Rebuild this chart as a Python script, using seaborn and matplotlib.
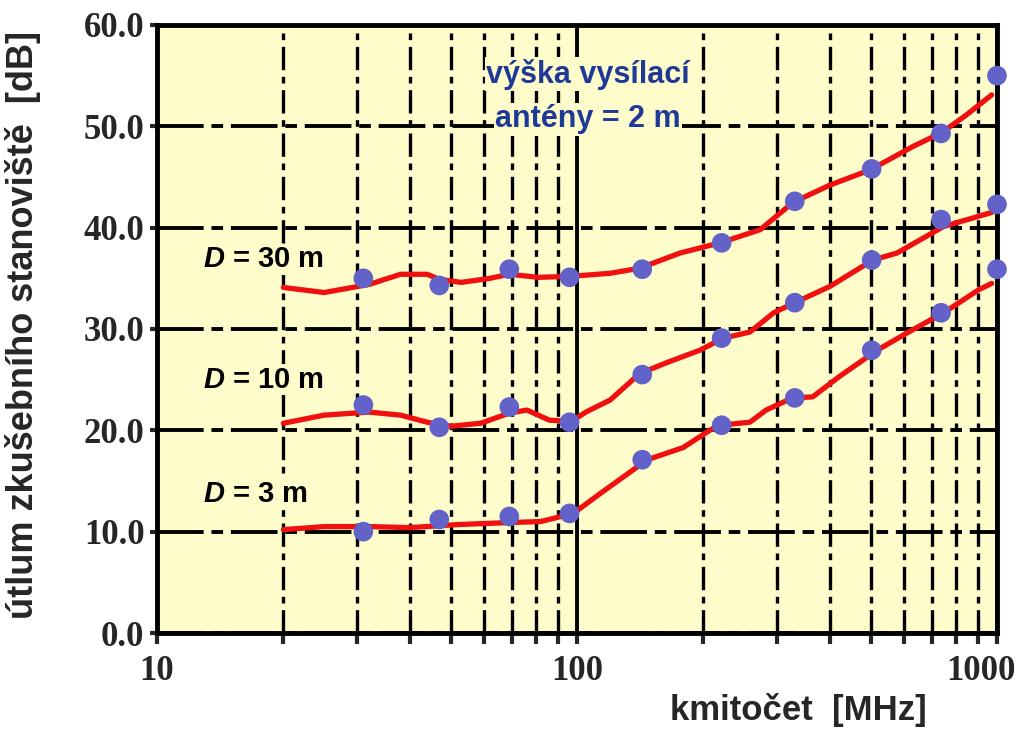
import matplotlib
matplotlib.use("Agg")
import matplotlib.pyplot as plt
import matplotlib.ticker as mticker
import matplotlib.transforms as mtransforms
import seaborn as sns

# ── data (frequency in MHz, attenuation in dB) ──
dot_freq = [31, 47, 69, 96, 143, 221, 330, 503, 736, 1000]
dots_30 = [35.0, 34.3, 35.9, 35.1, 35.9, 38.5, 42.6, 45.8, 49.3, 55.0]
dots_10 = [22.5, 20.3, 22.3, 20.8, 25.5, 29.1, 32.6, 36.8, 40.8, 42.3]
dots_3 = [10.0, 11.2, 11.5, 11.8, 17.1, 20.5, 23.2, 27.9, 31.6, 35.9]

curve_freq_30 = [20, 25, 32, 38, 44, 47, 53, 62, 69, 81, 97, 120, 141, 176,
                 219, 273, 327, 400, 499, 630, 740, 844, 971]
curve_30 = [34.1, 33.6, 34.4, 35.4, 35.4, 34.9, 34.6, 35.0, 35.4, 35.1, 35.2,
            35.5, 36.0, 37.5, 38.5, 39.8, 42.5, 44.2, 45.7, 48.0, 49.4, 51.1, 53.1]

curve_freq_10 = [20, 25, 32, 38, 44, 50, 59, 69, 76, 86, 97, 105, 120, 141,
                 164, 196, 223, 258, 294, 330, 400, 506, 578, 745, 971]
curve_10 = [20.7, 21.5, 21.8, 21.5, 20.8, 20.4, 20.7, 21.7, 22.0, 21.0, 20.9,
            21.8, 23.0, 25.6, 26.7, 27.9, 29.1, 29.7, 31.6, 32.6, 34.2, 36.8,
            37.5, 40.1, 41.5]

curve_freq_3 = [20, 25, 32, 40, 52, 69, 82, 98, 113, 147, 179, 207, 218, 258,
                282, 326, 364, 421, 518, 610, 746, 907, 971]
curve_3 = [10.2, 10.5, 10.5, 10.4, 10.7, 10.9, 11.0, 11.8, 13.7, 17.1, 18.3,
           20.0, 20.5, 20.8, 22.0, 23.2, 23.3, 25.3, 27.9, 29.6, 31.6, 33.9, 34.5]

series_labels = ["$D$ = 30 m", "$D$ = 10 m", "$D$ = 3 m"]
label_pos = [(12.9, 36.1), (12.9, 24.2), (12.9, 12.9)]

x_major = [10, 100, 1000]
x_major_labels = ["10", "100", "1000"]
x_minor = [20, 30, 40, 50, 60, 70, 80, 90, 200, 300, 400, 500, 600, 700, 800, 900]
y_ticks = [0, 10, 20, 30, 40, 50, 60]
y_labels = ["0.0", "10.0", "20.0", "30.0", "40.0", "50.0", "60.0"]

BG = "#fffccc"
RED = "#f01010"
DOT = "#6262c8"
BLUE = "#1f3a96"

sns.set_style("ticks")
plt.rcParams["font.family"] = ["Liberation Sans", "DejaVu Sans"]
plt.rcParams["mathtext.fontset"] = "custom"
plt.rcParams["mathtext.it"] = "Liberation Sans:italic:bold"
plt.rcParams["mathtext.rm"] = "Liberation Sans:bold"

fig = plt.figure(figsize=(10.24, 7.38), dpi=100)
ax = fig.add_axes([157 / 1024, 1 - 633 / 738, 840 / 1024, 608 / 738])
ax.set_facecolor(BG)

# ── curves and measured points ──
curves = [(curve_freq_30, curve_30), (curve_freq_10, curve_10), (curve_freq_3, curve_3)]
for cf, cv in curves:
    sns.lineplot(x=cf, y=cv, color=RED, linewidth=3.8, sort=False,
                 estimator=None, ax=ax, zorder=4)
for dv in (dots_30, dots_10, dots_3):
    sns.scatterplot(x=dot_freq, y=dv, color=DOT, s=200, edgecolor="none",
                    ax=ax, zorder=5, clip_on=False)

ax.set_xscale("log")
ax.set_xlim(10, 1000)
ax.set_ylim(0, 60)

# ── grid in the look of the old scanned paper ──
ax.set_xticks(x_minor, minor=True)
ax.xaxis.set_minor_formatter(mticker.NullFormatter())
ax.grid(which="major", axis="x", color="black", linewidth=2.8, linestyle="-", zorder=1)
ax.grid(which="minor", axis="x", color="black", linewidth=2.4,
        linestyle=(0, (7, 2, 2, 2)), zorder=1)
ax.grid(which="major", axis="y", color="black", linewidth=2.8,
        linestyle=(0, (12, 2, 3, 2)), zorder=1)
ax.set_axisbelow(True)

tick_font = dict(family="Liberation Serif", fontweight="bold", fontsize=25)
ax.set_xticks(x_major, labels=x_major_labels, **tick_font)
ax.set_yticks(y_ticks, labels=y_labels, **tick_font)
ax.tick_params(axis="x", which="both", direction="out", length=8, width=3, pad=8)
ax.tick_params(axis="y", direction="out", length=5, width=3, pad=4)

# the "1000" label sits a little left of its tick, inside the figure
shift = mtransforms.ScaledTranslation(-16 / 100, 0, fig.dpi_scale_trans)
last = ax.get_xticklabels()[-1]
last.set_transform(last.get_transform() + shift)

for sp in ax.spines.values():
    sp.set_linewidth(3.5)
    sp.set_color("black")

# ── annotations ──
for text, (tx, ty) in zip(series_labels, label_pos):
    ax.text(tx, ty, text, fontsize=21, fontweight="bold", color="black",
            ha="left", va="baseline", zorder=3,
            bbox=dict(facecolor=BG, edgecolor="none", pad=1))

ax.text(0.513, 0.905, "výška vysílací", transform=ax.transAxes, fontsize=22,
        fontweight="bold", color=BLUE, ha="center", va="baseline", zorder=3,
        bbox=dict(facecolor=BG, edgecolor="none", pad=1))
ax.text(0.513, 0.832, "antény = 2 m", transform=ax.transAxes, fontsize=22,
        fontweight="bold", color=BLUE, ha="center", va="baseline", zorder=3,
        bbox=dict(facecolor=BG, edgecolor="none", pad=1))

fig.text(0.022, 1 - 325 / 738, "útlum zkušebního stanoviště  [dB]", rotation=90,
         fontsize=26, fontweight="bold", ha="center", va="center")
fig.text(927 / 1024, 1 - 720 / 738, "kmitočet  [MHz]", fontsize=25,
         fontweight="bold", ha="right", va="baseline")

fig.savefig("out.png", dpi=100, facecolor="white")
